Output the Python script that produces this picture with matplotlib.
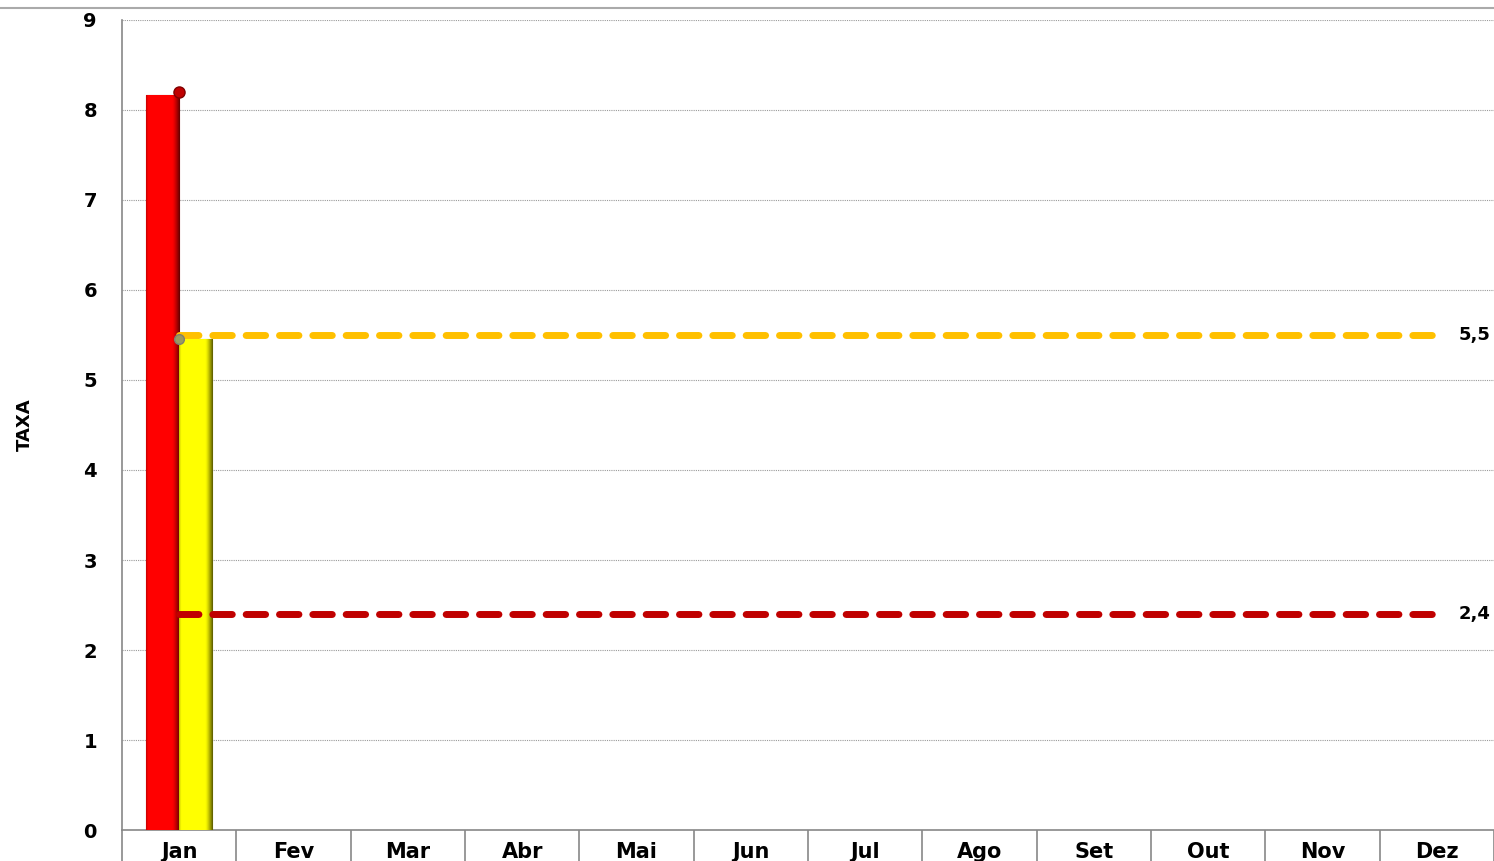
import matplotlib
matplotlib.use("Agg")
import matplotlib.pyplot as plt
from matplotlib.lines import Line2D
from matplotlib.colors import to_rgb
import numpy as np

months = ["Jan", "Fev", "Mar", "Abr", "Mai", "Jun", "Jul", "Ago", "Set", "Out", "Nov", "Dez"]
red_values = [8.17]
yellow_values = [5.45]
red_marker = [8.2]
yellow_marker = [5.45]
meta_orange = 5.5
meta_red = 2.4
meta_orange_label = "5,5"
meta_red_label = "2,4"
yticks = list(range(0, 10))

plt.rcParams['font.family'] = ['DejaVu Sans']

fig = plt.figure(figsize=(14.94, 8.61), dpi=100)
ax = fig.add_axes([122/1494, 31/861, 1 - 122/1494, (830-20)/861])

x = np.arange(len(months))
bw = 0.29


def shade(bars, base, dark):
    b = np.array(to_rgb(base))
    d = np.array(to_rgb(dark))
    t = np.linspace(0, 1, 100)
    w = np.clip((t - 0.78) / 0.22, 0, 1) ** 1.3
    wl = np.clip((0.06 - t) / 0.06, 0, 1) * 0.35
    w = np.maximum(w, wl)
    img = (b[None, :] * (1 - w[:, None]) + d[None, :] * w[:, None])[None, :, :]
    for p in bars:
        x0, y0 = p.get_x(), p.get_y()
        im = ax.imshow(img, extent=(x0, x0 + p.get_width(), y0, y0 + p.get_height()),
                       aspect="auto", zorder=3.1, interpolation="bilinear")
        im.set_clip_path(p)


rb = ax.bar(x[:len(red_values)] - bw/2, red_values, width=bw, color="#FF0000",
            edgecolor="#9a0000", linewidth=0.8, zorder=3)
yb = ax.bar(x[:len(yellow_values)] + bw/2, yellow_values, width=bw, color="#FFFF00",
            edgecolor="#8a8a00", linewidth=0.8, zorder=3)
shade(rb, "#FF0000", "#600000")
shade(yb, "#FFFF00", "#5a5a00")

ax.plot([0, len(months)-1], [meta_orange, meta_orange], color="#FFC000", lw=5,
        dashes=(2.8, 2.0), dash_capstyle="round", zorder=4)
ax.plot([0, len(months)-1], [meta_red, meta_red], color="#C00000", lw=5,
        dashes=(2.8, 2.0), dash_capstyle="round", zorder=4)

ax.plot(x[:len(red_marker)], red_marker, 'o', color="#C00000", mec="#800000", ms=8, zorder=5)
ax.plot(x[:len(yellow_marker)], yellow_marker, 'o', color="#9a9a60", mec="#808070", ms=7, zorder=5)

ax.annotate(meta_orange_label, (len(months)-1, meta_orange), xytext=(16, 0),
            textcoords="offset points", ha="left", va="center", fontsize=13, fontweight="bold")
ax.annotate(meta_red_label, (len(months)-1, meta_red), xytext=(16, 0),
            textcoords="offset points", ha="left", va="center", fontsize=13, fontweight="bold")

ax.set_xlim(-0.5, len(months)-0.5)
ax.set_ylim(0, 9)
ax.set_yticks(yticks)
ax.set_yticklabels([str(t) for t in yticks], fontsize=14, fontweight="bold")
ax.set_xticks(x)
ax.set_xticklabels(months, fontsize=15, fontweight="bold")
ax.set_xticks(np.arange(-0.5, len(months), 1), minor=True)
ax.tick_params(axis="x", which="major", length=0, pad=9)
ax.tick_params(axis="x", which="minor", length=25, color="#888888", width=1.2, direction="out")
ax.tick_params(axis="y", length=0, pad=18)

ax.grid(axis="y", color="#999999", linestyle=(0, (1, 1)), linewidth=0.8, zorder=0)
ax.set_axisbelow(True)
for s in ["top", "right"]:
    ax.spines[s].set_visible(False)
for s in ["left", "bottom"]:
    ax.spines[s].set_color("#888888")
    ax.spines[s].set_linewidth(1.2)

ax.set_ylabel("TAXA", fontsize=13, fontweight="bold", labelpad=36)

fig.add_artist(Line2D([0, 1], [1 - 8/861, 1 - 8/861], color="#aaaaaa", lw=1.5))

fig.savefig("out.png", dpi=100)
